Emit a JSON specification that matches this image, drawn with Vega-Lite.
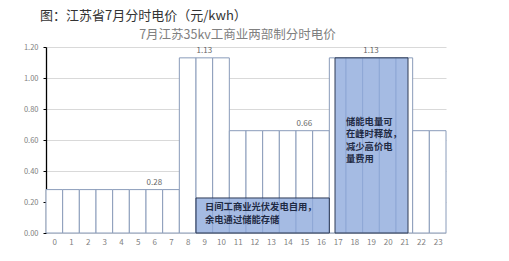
{
  "$schema": "https://vega.github.io/schema/vega-lite/v6.json",
  "width": 400,
  "height": 186,
  "autosize": "none",
  "padding": {"left": 46, "top": 47, "right": 63, "bottom": 28},
  "background": "white",
  "config": {"font": "Noto Sans CJK SC", "view": {"stroke": null}},
  "title": {"text": "图：江苏省7月分时电价（元/kwh）", "anchor": "start", "frame": "group", "dx": -6, "offset": 5, "fontSize": 13, "fontWeight": "normal", "color": "#333333"},
  "datasets": {
    "hours": [
      {"h": 0, "h2": 1, "v": 0.28, "label": ""},
      {"h": 1, "h2": 2, "v": 0.28, "label": ""},
      {"h": 2, "h2": 3, "v": 0.28, "label": ""},
      {"h": 3, "h2": 4, "v": 0.28, "label": ""},
      {"h": 4, "h2": 5, "v": 0.28, "label": ""},
      {"h": 5, "h2": 6, "v": 0.28, "label": ""},
      {"h": 6, "h2": 7, "v": 0.28, "label": "0.28"},
      {"h": 7, "h2": 8, "v": 0.28, "label": ""},
      {"h": 8, "h2": 9, "v": 1.13, "label": ""},
      {"h": 9, "h2": 10, "v": 1.13, "label": "1.13"},
      {"h": 10, "h2": 11, "v": 1.13, "label": ""},
      {"h": 11, "h2": 12, "v": 0.66, "label": ""},
      {"h": 12, "h2": 13, "v": 0.66, "label": ""},
      {"h": 13, "h2": 14, "v": 0.66, "label": ""},
      {"h": 14, "h2": 15, "v": 0.66, "label": ""},
      {"h": 15, "h2": 16, "v": 0.66, "label": "0.66"},
      {"h": 16, "h2": 17, "v": 0.66, "label": ""},
      {"h": 17, "h2": 18, "v": 1.13, "label": ""},
      {"h": 18, "h2": 19, "v": 1.13, "label": ""},
      {"h": 19, "h2": 20, "v": 1.13, "label": "1.13"},
      {"h": 20, "h2": 21, "v": 1.13, "label": ""},
      {"h": 21, "h2": 22, "v": 1.13, "label": ""},
      {"h": 22, "h2": 23, "v": 0.66, "label": ""},
      {"h": 23, "h2": 24, "v": 0.66, "label": ""}
    ],
    "boxes": [
      {"id": "a", "x0": 9, "x1": 17, "y0": 0, "y1": 0.226, "t": "日间工商业光伏发电自用，\n余电通过储能存储"},
      {"id": "b", "x0": 17.34, "x1": 21.72, "y0": 0, "y1": 1.13, "t": "储能电量可\n在峰时释放，\n减少高价电\n量费用"}
    ]
  },
  "resolve": {"axis": {"x": "independent", "y": "independent"}},
  "layer": [
    {
      "data": {"name": "hours"},
      "mark": {"type": "rect", "fill": "white", "stroke": "#8A9CBA", "strokeWidth": 1},
      "encoding": {
        "x": {"field": "h", "type": "quantitative", "scale": {"domain": [0, 24], "nice": false, "zero": false},
          "axis": {"orient": "bottom", "title": null, "values": [0.5,1.5,2.5,3.5,4.5,5.5,6.5,7.5,8.5,9.5,10.5,11.5,12.5,13.5,14.5,15.5,16.5,17.5,18.5,19.5,20.5,21.5,22.5,23.5],
            "labelExpr": "floor(datum.value)", "ticks": false, "domain": false, "grid": false, "labelColor": "#7f7f7f", "labelFontSize": 8, "labelPadding": 5}},
        "x2": {"field": "h2"},
        "y": {"field": "v", "type": "quantitative", "scale": {"domain": [0, 1.2], "nice": false},
          "axis": {"title": null, "values": [0, 0.2, 0.4, 0.6, 0.8, 1.0, 1.2], "format": ".2f", "grid": true, "gridColor": "#d9d9d9", "labelOverlap": false,
            "domain": true, "domainColor": "#000000", "domainWidth": 1.3, "ticks": true, "tickColor": "#000000", "tickSize": 3, "labelFontSize": 7.5, "labelColor": "#808080", "labelPadding": 5}},
        "y2": {"datum": 0}
      }
    },
    {
      "data": {"name": "hours"},
      "transform": [{"filter": "datum.label != ''"}],
      "mark": {"type": "text", "fontSize": 8, "color": "#666666", "baseline": "bottom", "dy": -3},
      "encoding": {
        "x": {"field": "h", "type": "quantitative", "axis": null},
        "y": {"field": "v", "type": "quantitative", "axis": null},
        "text": {"field": "label"},
        "xOffset": {"value": 8.3}
      }
    },
    {
      "data": {"name": "boxes"},
      "mark": {"type": "rect", "fill": "#8FAADC", "fillOpacity": 0.8, "stroke": "#2E3A55", "strokeWidth": 1},
      "encoding": {
        "x": {"field": "x0", "type": "quantitative",
          "axis": {"orient": "top", "title": "7月江苏35kv工商业两部制分时电价", "labels": false, "ticks": false, "domain": false, "grid": false,
            "titleFontSize": 12.5, "titleFontWeight": "normal", "titleColor": "#808080", "titlePadding": 6, "titleX": 191}},
        "x2": {"field": "x1"},
        "y": {"field": "y1", "type": "quantitative", "axis": null},
        "y2": {"field": "y0"}
      }
    },
    {
      "data": {"name": "boxes"},
      "transform": [{"filter": "datum.id == 'a'"}],
      "mark": {"type": "text", "align": "left", "baseline": "top", "fontSize": 9.3, "fontWeight": "bold", "color": "#1F2A44", "lineBreak": "\n", "lineHeight": 13, "dx": 9, "dy": 5},
      "encoding": {
        "x": {"field": "x0", "type": "quantitative", "axis": null},
        "y": {"field": "y1", "type": "quantitative", "axis": null},
        "text": {"field": "t"}
      }
    },
    {
      "data": {"name": "boxes"},
      "transform": [{"filter": "datum.id == 'b'"}],
      "mark": {"type": "text", "align": "left", "baseline": "top", "fontSize": 9.3, "fontWeight": "bold", "color": "#1F2A44", "lineBreak": "\n", "lineHeight": 12.5, "dx": 11, "dy": 60},
      "encoding": {
        "x": {"field": "x0", "type": "quantitative", "axis": null},
        "y": {"field": "y1", "type": "quantitative", "axis": null},
        "text": {"field": "t"}
      }
    }
  ]
}
